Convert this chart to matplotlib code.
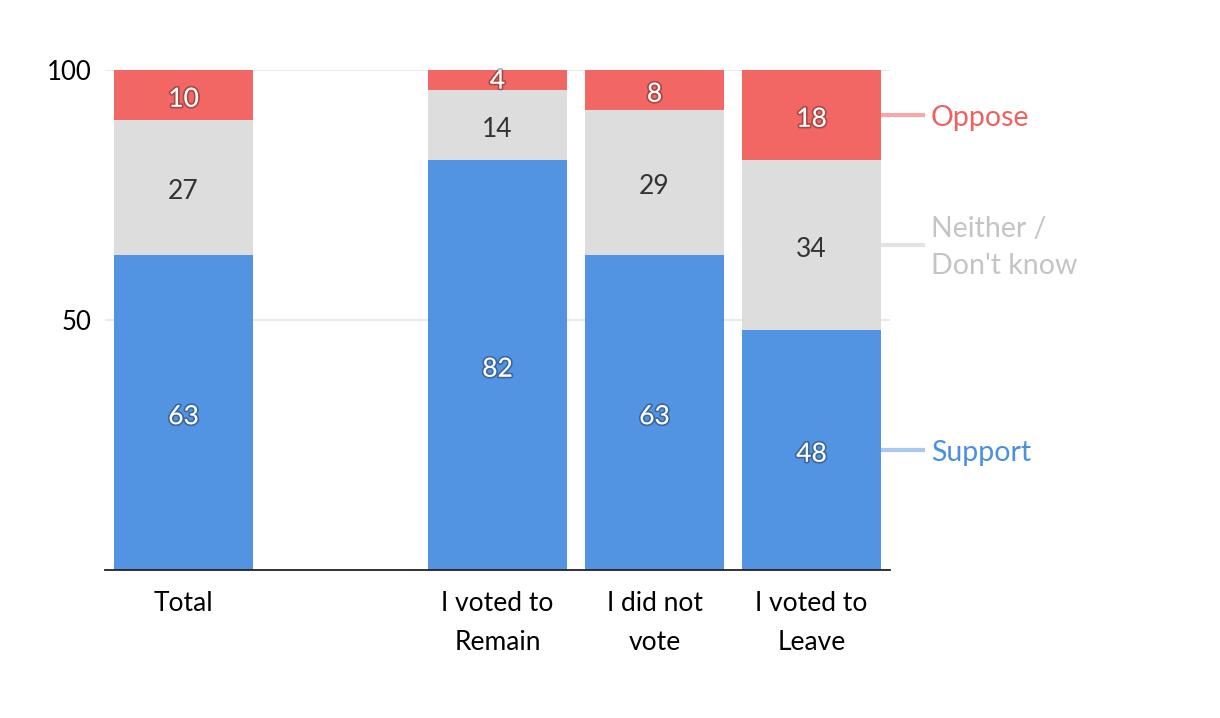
import matplotlib.pyplot as plt
import matplotlib.patheffects as pe
import numpy as np

plt.rcParams['font.family'] = ['Lato', 'DejaVu Sans']

groups = ["Total", "", "I voted to\nRemain", "I did not\nvote", "I voted to\nLeave"]
support = [63, 0, 82, 63, 48]
neither = [27, 0, 14, 29, 34]
oppose = [10, 0, 4, 8, 18]
series_names = ["Support", "Neither /\nDon't know", "Oppose"]

col_bar = ["#5294E2", "#DDDDDD", "#F26663"]
col_lab = ["#4A8FE0", "#C4C4C4", "#F0605E"]
col_line = ["#A9C9F0", "#E3E3E3", "#F7A9A8"]

fig = plt.figure(figsize=(12.2, 7.18), dpi=100)
ax = fig.add_axes([0.0861, 0.2061, 0.6434, 0.6964])

x = np.arange(len(groups))
w = 0.89
bottom = np.zeros(len(groups))
shadow = [pe.withStroke(linewidth=2.5, foreground=(0, 0, 0, 0.3))]
for vals, c, k in zip([support, neither, oppose], col_bar, range(3)):
    vals = np.array(vals, dtype=float)
    ax.bar(x, vals, w, bottom=bottom, color=c, zorder=2)
    for xi, v, b in zip(x, vals, bottom):
        if v <= 0:
            continue
        yy = b + v / 2
        if k == 1:
            ax.annotate(f"{v:.0f}", (xi, yy), xytext=(0, -3), textcoords="offset points",
                        ha="center", va="center", fontsize=19, color="#333333", zorder=3)
        else:
            off = -3
            if v < 6:
                yy = b + v
                off = -8
            ax.annotate(f"{v:.0f}", (xi, yy), xytext=(0, off), textcoords="offset points",
                        ha="center", va="center", fontsize=19, color="white", zorder=3,
                        path_effects=shadow)
    bottom = bottom + vals

# labels at right, beside last bar
last = len(groups) - 1
b = 0
for vals, name, lc, ln in zip([support, neither, oppose], series_names, col_lab, col_line):
    mid = b + vals[last] / 2
    b += vals[last]
    ax.plot([last + w / 2, last + 0.72], [mid, mid], color=ln, lw=3,
            clip_on=False, solid_capstyle="butt", zorder=1)
    ax.annotate(name, (last + 0.76, mid), xytext=(0, -2), textcoords="offset points",
                ha="left", va="center", fontsize=20.5, color=lc, linespacing=1.52,
                annotation_clip=False)

ax.set_xlim(-0.5, len(groups) - 0.5)
ax.set_ylim(0, 100)
ax.set_yticks([50, 100])
ax.set_yticklabels(["50", "100"], fontsize=18.5)
ax.set_xticks(x)
ax.set_xticklabels(groups, fontsize=19, linespacing=1.72)
ax.tick_params(length=0, pad=10)
ax.tick_params(axis="x", pad=15)
ax.grid(axis="y", color="#E5E5E5", lw=1.2, zorder=0)
for s in ["top", "right", "left"]:
    ax.spines[s].set_visible(False)
ax.spines["bottom"].set_color("#222222")
ax.spines["bottom"].set_linewidth(1.3)

fig.savefig("out.png", dpi=100)
